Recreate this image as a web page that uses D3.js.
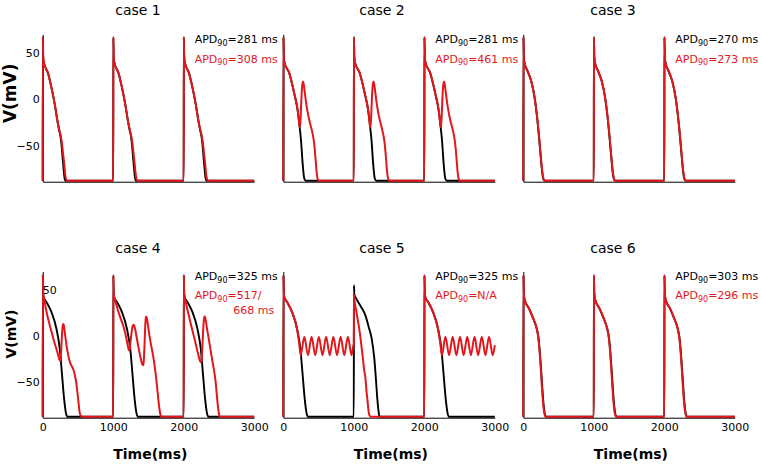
<!DOCTYPE html>
<html><head><meta charset="utf-8">
<script src="https://cdn.jsdelivr.net/npm/d3@7"></script>
<style>
body{margin:0;background:#fff;}
svg{display:block;font-family:"DejaVu Sans",Verdana,sans-serif;}
</style></head><body>
<svg id="c" width="762" height="466"></svg>
<script>
// ---------- data ----------
const caseTitles = ["case 1","case 2","case 3","case 4","case 5","case 6"];
const timeTicks = [0,1000,2000,3000];
const voltTicks = [50,0,-50];
const apdBlack = ["281 ms","281 ms","270 ms","325 ms","325 ms","303 ms"];
const apdRed = ["308 ms","461 ms","273 ms","517/","N/A","296 ms"];
const apdRedLine2 = ["","","","668 ms","",""];
const beatStarts = [0,1000,2000];
const restPotential = -88;

// beat shapes: [ms since stimulus, mV]
const case1Black = [[0,-88],[2,67],[7,46],[15,40],[76,28],[123,13],[170,-5],[208,-23],[235,-34],[250,-39],[265,-48],[289,-69],[310,-85],[325,-88]];
const case1Red   = [[0,-88],[2,67],[7,46],[15,40],[76,28],[123,13],[170,-5],[208,-23],[235,-33],[252,-38],[270,-46],[288,-58],[305,-70],[320,-82],[335,-87],[352,-88]];
const case2Black = [[0,-88],[2,67],[7,46],[15,40],[85,28],[156,6],[204,-12],[232,-30],[251,-44],[275,-70],[299,-86],[320,-88]];
const case2Red   = [[0,-88],[2,67],[7,46],[15,40],[85,28],[156,6],[204,-12],[220,-22],[230,-29],[236,-30],[243,-24],[252,-8],[262,8],[272,17],[281,19],[290,16],[302,9],[322,-3],[345,-14],[370,-23],[390,-29],[403,-33],[418,-38],[431,-44],[445,-53],[458,-65],[472,-78],[488,-86],[505,-88]];
const case3Black = [[0,-88],[2,67],[7,46],[15,40],[68,29],[114,19],[162,1],[195,-19],[223,-41],[247,-62],[270,-80],[290,-87],[310,-88]];
const case3Red   = [[0,-88],[2,67],[7,46],[15,40],[68,29],[114,19],[162,1],[196,-19],[225,-41],[249,-62],[273,-80],[293,-87],[313,-88]];
const case4Black = [[0,-88],[2,66],[7,46],[15,42],[52,37],[123,26],[194,8],[242,-14],[275,-43],[303,-68],[330,-84],[350,-88]];
const case4RedB1 = [[0,-88],[2,66],[7,46],[15,42],[35,34],[60,24],[95,13],[130,3],[165,-7],[194,-14],[220,-21],[238,-26],[250,-27],[258,-22],[266,-10],[274,2],[282,10],[290,13],[298,12],[310,6],[325,-3],[345,-14],[365,-22],[384,-28],[405,-32],[425,-35],[445,-39],[462,-45],[478,-52],[490,-60],[502,-68],[515,-78],[526,-84],[540,-87],[555,-88]];
const case4RedB2 = [[0,-88],[2,66],[7,46],[15,42],[40,35],[70,27],[110,18],[150,9],[185,-2],[205,-10],[220,-15],[230,-16],[240,-11],[252,-2],[265,6],[278,11],[290,12],[302,10],[320,4],[345,-7],[370,-17],[395,-26],[412,-31],[425,-32],[433,-28],[441,-16],[449,0],[456,13],[463,20],[470,21],[480,18],[500,8],[521,-3],[545,-13],[569,-23],[590,-34],[608,-45],[625,-57],[640,-69],[655,-79],[668,-85],[685,-88]];
const case4RedB3 = [[0,-88],[2,66],[7,46],[15,42],[40,33],[70,23],[110,10],[156,-4],[190,-15],[215,-23],[235,-28],[248,-29],[256,-24],[265,-12],[274,3],[283,15],[292,21],[300,21],[310,18],[330,8],[346,1],[370,-10],[393,-21],[418,-32],[441,-43],[458,-54],[474,-68],[488,-78],[500,-85],[515,-88]];
const case5BlackB2 = [[0,-88],[2,55],[8,45],[24,42],[100,32],[166,22],[210,10],[251,-2],[290,-24],[312,-45],[330,-65],[348,-80],[362,-87],[380,-88]];
const case5RedB1 = [[0,-88],[2,66],[7,46],[15,42],[52,37],[123,26],[194,8],[228,-10],[247,-21],[298,-1],[350,-21],[401,-1],[453,-21],[504,-1],[556,-21],[607,-1],[659,-21],[710,-1],[762,-21],[813,-1],[865,-21],[916,-1],[968,-21],[995,-10]];
const case5RedB2 = [[0,-9],[2,45],[8,40],[40,25],[88,2],[125,-22],[147,-37],[165,-46],[180,-60],[194,-70],[208,-81],[220,-86],[240,-88]];
const case5RedB3 = [[0,-88],[2,66],[7,46],[15,42],[52,37],[123,26],[194,8],[230,-10],[250,-21],[300,-1],[352,-21],[403,-1],[455,-21],[506,-1],[558,-21],[609,-1],[661,-21],[712,-1],[764,-21],[815,-1],[867,-21],[918,-1],[970,-21],[1000,-10]];
const case6Black = [[0,-88],[2,66],[7,46],[20,39],[80,30],[140,19],[190,8],[215,-2],[235,-18],[252,-36],[270,-57],[288,-75],[303,-84],[322,-88]];
const case6Red   = [[0,-88],[2,66],[7,46],[20,39],[80,30],[140,19],[190,8],[213,-2],[232,-18],[248,-36],[265,-57],[283,-75],[298,-84],[318,-88]];

// beats of each series, one per stimulus
const blackBeats = [
  [case1Black,case1Black,case1Black],
  [case2Black,case2Black,case2Black],
  [case3Black,case3Black,case3Black],
  [case4Black,case4Black,case4Black],
  [case4Black,case5BlackB2,case4Black],
  [case6Black,case6Black,case6Black]
];
const redBeats = [
  [case1Red,case1Red,case1Red],
  [case2Red,case2Red,case2Red],
  [case3Red,case3Red,case3Red],
  [case4RedB1,case4RedB2,case4RedB3],
  [case5RedB1,case5RedB2,case5RedB3],
  [case6Red,case6Red,case6Red]
];

// ---------- layout ----------
const svg = d3.select("#c");
const RED = "#e3161c";
const colLeft = [42.7, 283.3, 523.3];
const panelW = 211.5;
const rowRange = [[181.7, 34.3],[417.7, 271.5]];
const titleX = [138, 382, 613];
const titleY = [15, 253.3];
const apdY = [[43.3, 62.7],[280, 299]];

function assemble(beats){
  const pts = beats.flatMap((beat,i)=>beat.map(([t,v])=>[beatStarts[i]+t, v]));
  if (pts[pts.length-1][0] < 3000) pts.push([3000, restPotential]);
  return pts;
}

caseTitles.forEach((title, k)=>{
  const row = Math.floor(k/3), col = k%3;
  const left = colLeft[col];
  const x = d3.scaleLinear().domain([0,3000]).range([left, left+panelW]);
  const y = d3.scaleLinear().domain([-89,70]).range(rowRange[row]);
  const g = svg.append("g");

  // axes
  const xa = g.append("g").attr("transform",`translate(0,${rowRange[row][0]})`)
    .call(d3.axisBottom(x).tickValues(row===1 ? timeTicks : []).tickFormat(d3.format("d"))
      .tickSize(0).tickSizeOuter(0).tickPadding(6));
  const ya = g.append("g").attr("transform",`translate(${left},0)`)
    .call(d3.axisLeft(y).tickValues(col===0 ? voltTicks : []).tickSize(0).tickSizeOuter(0).tickPadding(3));
  [xa, ya].forEach(a=>{
    a.attr("font-family",null).attr("font-size",null);
    a.select(".domain").attr("stroke","#000").attr("stroke-width",1);
    a.selectAll("text").attr("font-size","11px").attr("fill","#000");
  });
  if (k===3){
    // the "50" label of case 4 sits just right of the axis
    ya.selectAll(".tick").filter(d=>d===50).select("text").attr("x",0).attr("text-anchor","start");
  }

  // traces
  const line = d3.line().x(d=>x(d[0])).y(d=>y(d[1])).curve(d3.curveMonotoneX);
  g.append("path").attr("d", line(assemble(blackBeats[k])))
    .attr("fill","none").attr("stroke","#000").attr("stroke-width",1.9);
  g.append("path").attr("d", line(assemble(redBeats[k])))
    .attr("fill","none").attr("stroke",RED).attr("stroke-width",2);

  // title
  g.append("text").attr("x",titleX[col]).attr("y",titleY[row]).attr("text-anchor","middle")
    .attr("font-size","14px").attr("fill","#000").text(title);

  // APD labels
  function apd(yy, value, color){
    const t = g.append("text").attr("x", left+152).attr("y", yy).attr("font-size","11px").attr("fill",color);
    t.append("tspan").text("APD");
    t.append("tspan").attr("font-size","8px").attr("dy",2.5).text("90");
    t.append("tspan").attr("dy",-2.5).text("=" + value);
  }
  apd(apdY[row][0], apdBlack[k], "#000");
  apd(apdY[row][1], apdRed[k], RED);
  if (apdRedLine2[k]) {
    g.append("text").attr("x", left+190.6).attr("y", apdY[row][1]+14.5)
      .attr("font-size","11px").attr("fill",RED).text(apdRedLine2[k]);
  }

  // axis titles
  if (col===0){
    const cy = row===0 ? 93.3 : 334;
    g.append("text").attr("transform",`translate(15.5,${cy}) rotate(-90)`).attr("text-anchor","middle")
      .attr("font-weight","bold").attr("font-size", row===0 ? "17px" : "14px").attr("fill","#000").text("V(mV)");
  }
  if (row===1){
    g.append("text").attr("x", left+107.6).attr("y", 459).attr("text-anchor","middle")
      .attr("font-weight","bold").attr("font-size","14px").attr("fill","#000").text("Time(ms)");
  }
});
</script>
</body></html>
